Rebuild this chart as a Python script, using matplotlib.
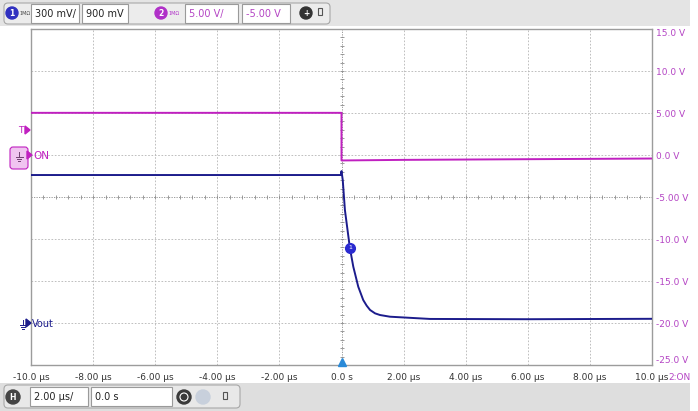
import numpy as np
import matplotlib.pyplot as plt
from matplotlib.patches import FancyBboxPatch, Circle, Rectangle, Polygon

# 通道设置
ch1_scale = 0.3    # V/div
ch1_offset = 0.9   # V
ch2_scale = 5.0    # V/div
ch2_offset = -5.0  # V

# 通道1：Vout（时间 µs，电压 V）
t_vout = [-10.0, -0.02, 0.0, 0.04, 0.11, 0.27, 0.38, 0.54, 0.70, 0.81, 0.92,
          1.08, 1.24, 1.56, 2.85, 6.0, 10.0]
v_vout = [1.057, 1.057, 1.085, 1.021, 0.807, 0.536, 0.402, 0.259, 0.164, 0.124,
          0.093, 0.069, 0.057, 0.045, 0.029, 0.027, 0.030]

# 通道2：ON（时间 µs，电压 V）
t_on = [-10.0, 0.0, 0.0, 2.0, 10.0]
v_on = [5.02, 5.02, -0.65, -0.58, -0.42]

# 坐标轴标签
x_ticks = [-10, -8, -6, -4, -2, 0, 2, 4, 6, 8, 10]
x_labels = ['-10.0 µs', '-8.00 µs', '-6.00 µs', '-4.00 µs', '-2.00 µs', '0.0 s',
            '2.00 µs', '4.00 µs', '6.00 µs', '8.00 µs', '10.0 µs']
y_ticks = [-25, -20, -15, -10, -5, 0, 5, 10, 15]
y_labels = ['-25.0 V', '-20.0 V', '-15.0 V', '-10.0 V', '-5.00 V', '0.0 V',
            '5.00 V', '10.0 V', '15.0 V']

BLUE = '#1c1c8c'
MAG = '#c020c0'
MAG_TXT = '#b444c4'
W, H = 698, 411

fig = plt.figure(figsize=(W / 100, H / 100), dpi=100)
fig.patch.set_facecolor('white')


def pixel_axes(z):
    a = fig.add_axes([0, 0, 1, 1], zorder=z)
    a.set_xlim(0, W)
    a.set_ylim(H, 0)
    a.axis('off')
    a.patch.set_alpha(0)
    return a


# 背景层和前景层（像素坐标）
bg = pixel_axes(0)
fg = pixel_axes(10)

# 顶部工具栏
bg.add_patch(Rectangle((0, 0), 690, 26, color='#e4e4e4', lw=0))
bg.add_patch(FancyBboxPatch((4, 3), 326, 21, boxstyle='round,pad=0,rounding_size=4',
                            fc='#ececec', ec='#a8a8a8', lw=0.8))


def box(x0, x1, y0, y1, text, color):
    bg.add_patch(Rectangle((x0, y0), x1 - x0, y1 - y0, fc='white', ec='#9a9a9a', lw=0.8))
    bg.text(x0 + 4, (y0 + y1) / 2 + 0.5, text, color=color, fontsize=7, va='center', ha='left')


def badge(x, y, text, color, r=6):
    bg.add_patch(Circle((x, y), r, color=color))
    bg.text(x, y + 0.5, text, color='white', fontsize=5.5, ha='center', va='center',
            fontweight='bold')


def ground(a, x, y, color):
    # 接地符号
    a.plot([x, x], [y - 5, y], color=color, lw=0.7)
    for i, hw in enumerate([3.5, 2.3, 1.1]):
        a.plot([x - hw, x + hw], [y + i * 1.8, y + i * 1.8], color=color, lw=0.7)


badge(12, 13, '1', '#3030c0')
bg.text(19, 13.5, '1MΩ', fontsize=3.5, color='#444', va='center')
box(31, 79, 4, 23, '300 mV/', '#222222')
box(82, 128, 4, 23, '900 mV', '#222222')
badge(161, 13, '2', '#b030c8')
bg.text(168, 13.5, '1MΩ', fontsize=3.5, color='#b030c8', va='center')
box(185, 238, 4, 23, '5.00 V/', MAG_TXT)
box(242, 290, 4, 23, '-5.00 V', MAG_TXT)
badge(306, 13, '+', '#333333')
bg.add_patch(Rectangle((318, 8), 4, 7, fc='none', ec='#555', lw=0.8))

# 底部工具栏
bg.add_patch(Rectangle((0, 383), 690, 28, color='#dedede', lw=0))
bg.add_patch(FancyBboxPatch((4, 385), 236, 23, boxstyle='round,pad=0,rounding_size=4',
                            fc='#e8e8e8', ec='#a8a8a8', lw=0.8))
badge(13, 397, 'H', '#444444', r=7)
box(30, 88, 387, 406, '2.00 µs/', '#222222')
box(91, 172, 387, 406, '0.0 s', '#222222')
bg.add_patch(Circle((184, 397), 7, color='#3a3a3a'))
bg.add_patch(Circle((184, 397), 4, fc='none', ec='white', lw=0.8))
bg.add_patch(Circle((203, 397), 7, color='#c8d0dc'))
bg.add_patch(Rectangle((223, 392), 4, 7, fc='none', ec='#555', lw=0.8))

# 左侧标记
fg.add_patch(FancyBboxPatch((10, 147), 18, 22, boxstyle='round,pad=0,rounding_size=3',
                            fc='#f0c4f0', ec=MAG, lw=0.8))
ground(fg, 19, 157, '#704070')
fg.add_patch(Polygon([[27, 151], [32, 155], [27, 159]], color=MAG))
fg.text(33, 155.5, 'ON', color=MAG, fontsize=7.5, va='center', ha='left')
fg.text(18, 130.5, 'T', color=MAG, fontsize=6.5, va='center', ha='left')
fg.add_patch(Polygon([[25, 126], [30, 130], [25, 134]], color=MAG))
ground(fg, 23, 325, BLUE)
fg.add_patch(Polygon([[26, 319], [31, 323], [26, 327]], color=BLUE))
fg.text(32, 323.5, 'Vout', color=BLUE, fontsize=7, va='center', ha='left')
bg.text(668, 377, '2:ON', color=MAG_TXT, fontsize=6.5, va='center', ha='left')

# 示波器主区域
left, right, top, bottom = 31, 652, 29, 365
ax = fig.add_axes([left / W, 1 - bottom / H, (right - left) / W, (bottom - top) / H], zorder=5)
ax.set_facecolor('white')
ax.set_xlim(-10, 10)
ax.set_ylim(-25, 15)
for s in ax.spines.values():
    s.set_color('#9c9c9c')
    s.set_linewidth(1.0)

for xv in x_ticks[1:-1]:
    if xv != 0:
        ax.axvline(xv, color='#b4b4b4', lw=0.6, ls=(0, (2, 2)))
for yv in y_ticks[1:-1]:
    if yv != ch2_offset:
        ax.axhline(yv, color='#b4b4b4', lw=0.6, ls=(0, (2, 2)))

# 中心十字线及细分刻度
ax.axhline(ch2_offset, color='#8c8c8c', lw=0.6, ls=(0, (1.5, 1.5)))
ax.axvline(0, color='#8c8c8c', lw=0.6, ls=(0, (1.5, 1.5)))
minor_x = np.arange(-10, 10.01, 0.4)
minor_y = np.arange(-25, 15.01, 1.0)
ax.plot(minor_x, np.full_like(minor_x, ch2_offset), ls='none', marker='|', ms=3,
        mew=0.6, color='#8c8c8c')
ax.plot(np.zeros_like(minor_y), minor_y, ls='none', marker='_', ms=3, mew=0.6,
        color='#8c8c8c')

# 波形
vout_screen = ch2_offset + (np.array(v_vout) - ch1_offset) / ch1_scale * ch2_scale
ax.plot(t_on, v_on, color=MAG, lw=1.4, zorder=5)
ax.plot(t_vout, vout_screen, color=BLUE, lw=1.4, zorder=6)

# 通道1标记与触发标记
ax.plot(0.27, -11.1, 'o', ms=7, color='#2a2ad0', zorder=7)
ax.text(0.27, -11.05, '1', color='white', fontsize=4.5, ha='center', va='center', zorder=8)
ax.plot(0, -24.6, marker='^', ms=6, color='#2a8ad8', clip_on=False, zorder=8)

ax.set_xticks(x_ticks)
ax.set_xticklabels(x_labels, fontsize=6.5, color='#333333')
ax.yaxis.tick_right()
ax.set_yticks(y_ticks)
ax.set_yticklabels(y_labels, fontsize=6.5, color=MAG_TXT)
ytl = ax.get_yticklabels()
ytl[0].set_va('bottom')
ytl[-1].set_va('top')
ax.tick_params(axis='both', length=0)
ax.tick_params(axis='x', pad=6)
ax.tick_params(axis='y', pad=3)

fig.savefig('out.png', dpi=100)
